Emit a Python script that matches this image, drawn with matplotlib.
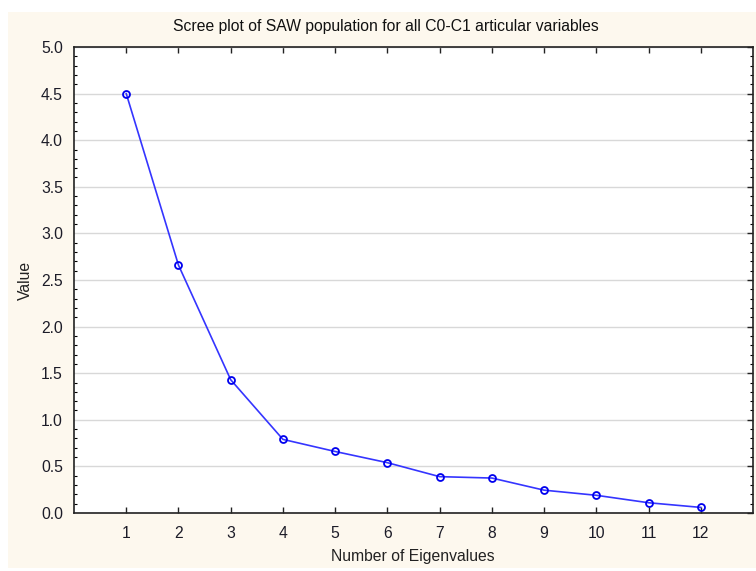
import matplotlib.pyplot as plt
from matplotlib.patches import Rectangle
from matplotlib.ticker import MultipleLocator

# dados
eigen_num = [1, 2, 3, 4, 5, 6, 7, 8, 9, 10, 11, 12]
eigen_val = [4.50, 2.66, 1.43, 0.79, 0.66, 0.54, 0.39, 0.375, 0.245, 0.19, 0.11, 0.06]
x_ticks = list(range(1, 13))
y_ticks = [0.0, 0.5, 1.0, 1.5, 2.0, 2.5, 3.0, 3.5, 4.0, 4.5, 5.0]

plt.rcParams['font.family'] = ['Liberation Sans', 'DejaVu Sans']
fs = 11.3

W, H = 756, 571
fig = plt.figure(figsize=(W / 100, H / 100), dpi=100, facecolor='white')
# painel creme atrás do gráfico
fig.patches.append(Rectangle((8 / W, 3 / H), 1 - 8 / W, 1 - 15 / H, transform=fig.transFigure,
                             facecolor='#fdf8ee', edgecolor='none', zorder=-1))

ax = fig.add_axes([74 / W, 1 - 513 / H, (753 - 74) / W, (513 - 47) / H])
ax.set_zorder(2)
ax.set_facecolor('white')
ax.plot(eigen_num, eigen_val, color='#3535ff', lw=1.2, marker='o', ms=5,
        mfc='none', mec='#0000ee', mew=1.3, zorder=3)

ax.set_xlim(0, 13)
ax.set_ylim(0, 5)
ax.set_xticks(x_ticks)
ax.set_yticks(y_ticks)
ax.set_yticklabels([f'{v:.1f}' for v in y_ticks])
ax.yaxis.set_minor_locator(MultipleLocator(0.1))
ax.tick_params(direction='in', top=True, right=True, length=4, width=1, colors='#222222',
               labelcolor='#1c1c28', labelsize=fs, pad=6)
ax.tick_params(axis='y', which='major', left=False, pad=8)
ax.tick_params(which='minor', direction='in', left=True, right=True, length=2, width=0.8)
ax.tick_params(axis='x', pad=9)
ax.grid(axis='y', color='#d8d8d8', lw=1)
ax.set_axisbelow(True)
for s in ax.spines.values():
    s.set_color('#222222')
    s.set_linewidth(1.2)

fig.text(386 / W, 1 - 27 / H, 'Scree plot of SAW population for all C0-C1 articular variables',
         ha='center', va='center', fontsize=fs, color='#111111', zorder=3)
fig.text(413 / W, 1 - 557 / H, 'Number of Eigenvalues', ha='center', va='center',
         fontsize=fs, color='#222222', zorder=3)
fig.text(25 / W, 1 - 280 / H, 'Value', ha='center', va='center', rotation=90,
         fontsize=fs, color='#222222', zorder=3)

plt.savefig('out.png', dpi=100, facecolor=fig.get_facecolor())
plt.close(fig)
